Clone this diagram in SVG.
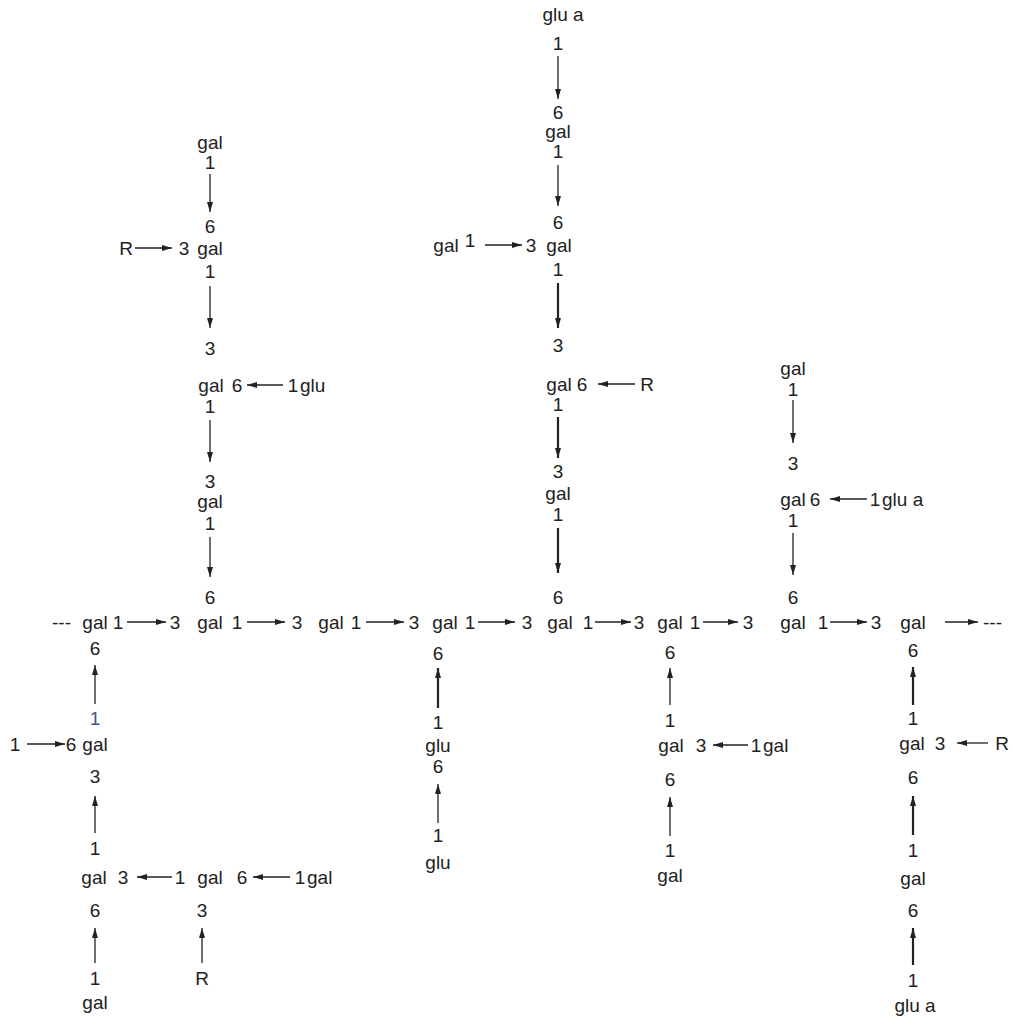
<svg xmlns="http://www.w3.org/2000/svg" width="1013" height="1018" viewBox="0 0 1013 1018">
<style>
text{font-family:"Liberation Sans",Arial,sans-serif;font-size:19px;fill:#222;text-anchor:middle}
text.s{text-anchor:start}
.blue{fill:#3c5a88}
.a{stroke:#222;stroke-width:1.3;fill:none;marker-end:url(#ah)}
.b{stroke-width:2.2}
</style>
<defs>
<marker id="ah" markerUnits="userSpaceOnUse" viewBox="0 0 10 6" refX="10" refY="3" markerWidth="10" markerHeight="6" orient="auto">
<path d="M0,0 L10,3 L0,6 z" fill="#222"/>
</marker>
</defs>
<rect width="1013" height="1018" fill="#fff"/>

<g id="connectors">
<!-- left upper column -->
<line class="a" x1="210" y1="174" x2="210" y2="212"/>
<line class="a" x1="135" y1="248" x2="172" y2="248"/>
<line class="a" x1="210" y1="286" x2="210" y2="328"/>
<line class="a" x1="283" y1="385" x2="247" y2="385"/>
<line class="a" x1="210" y1="420" x2="210" y2="462"/>
<line class="a" x1="210" y1="537" x2="210" y2="577"/>
<!-- top column -->
<line class="a" x1="558" y1="56" x2="558" y2="99"/>
<line class="a" x1="558" y1="165" x2="558" y2="206"/>
<line class="a" x1="485" y1="245" x2="522" y2="245"/>
<line class="a b" x1="558" y1="283" x2="558" y2="328"/>
<line class="a" x1="635" y1="384" x2="598" y2="384"/>
<line class="a b" x1="558" y1="417" x2="558" y2="458"/>
<line class="a b" x1="558" y1="528" x2="558" y2="573"/>
<!-- right upper column -->
<line class="a" x1="793" y1="400" x2="793" y2="443"/>
<line class="a" x1="867" y1="499" x2="830" y2="499"/>
<line class="a" x1="793" y1="533" x2="793" y2="575"/>
<!-- main chain -->
<line class="a" x1="127" y1="622" x2="166" y2="622"/>
<line class="a" x1="247" y1="622" x2="285" y2="622"/>
<line class="a" x1="366" y1="622" x2="404" y2="622"/>
<line class="a" x1="478" y1="622" x2="515" y2="622"/>
<line class="a" x1="595" y1="622" x2="631" y2="622"/>
<line class="a" x1="703" y1="622" x2="738" y2="622"/>
<line class="a" x1="830" y1="622" x2="867" y2="622"/>
<line class="a" x1="945" y1="622" x2="978" y2="622"/>
<!-- left lower -->
<line class="a" x1="95" y1="704" x2="95" y2="665"/>
<line class="a" x1="27" y1="744" x2="65" y2="744"/>
<line class="a" x1="95" y1="833" x2="95" y2="796"/>
<line class="a" x1="172" y1="877" x2="137" y2="877"/>
<line class="a" x1="290" y1="877" x2="253" y2="877"/>
<line class="a" x1="95" y1="963" x2="95" y2="928"/>
<line class="a" x1="202" y1="963" x2="202" y2="928"/>
<!-- middle lower -->
<line class="a b" x1="438" y1="708" x2="438" y2="668"/>
<line class="a" x1="438" y1="823" x2="438" y2="784"/>
<!-- right-mid lower -->
<line class="a" x1="670" y1="705" x2="670" y2="668"/>
<line class="a" x1="748" y1="745" x2="713" y2="745"/>
<line class="a" x1="670" y1="836" x2="670" y2="797"/>
<!-- right lower -->
<line class="a b" x1="913" y1="705" x2="913" y2="667"/>
<line class="a" x1="988" y1="743" x2="957" y2="743"/>
<line class="a b" x1="913" y1="835" x2="913" y2="796"/>
<line class="a b" x1="913" y1="965" x2="913" y2="928"/>
</g>

<!-- left upper column -->
<g id="lu1"><text x="210" y="149">gal</text><text x="210" y="169">1</text></g>
<g id="lu2"><text x="210" y="233">6</text><text x="184" y="255">3</text><text x="210" y="255">gal</text><text x="210" y="278">1</text></g>
<g id="luR"><text x="126" y="255">R</text></g>
<g id="lu3"><text x="210" y="355">3</text><text x="211" y="392">gal</text><text x="237" y="392">6</text><text x="210" y="413">1</text></g>
<g id="luglu"><text x="293" y="392">1</text><text class="s" x="300" y="392">glu</text></g>
<g id="lu4"><text x="210" y="488">3</text><text x="210" y="508">gal</text><text x="210" y="530">1</text></g>

<!-- top column -->
<g id="t1"><text x="563" y="21">glu a</text><text x="558" y="50">1</text></g>
<g id="t2"><text x="558" y="119">6</text><text x="558" y="138">gal</text><text x="558" y="158">1</text></g>
<g id="t3"><text x="558" y="229">6</text><text x="531" y="252">3</text><text x="559" y="252">gal</text><text x="558" y="276">1</text></g>
<g id="tside"><text x="446" y="252">gal</text><text x="470" y="247">1</text></g>
<g id="t4"><text x="558" y="352">3</text><text x="559" y="391">gal</text><text x="582" y="391">6</text><text x="558" y="411">1</text></g>
<g id="tR"><text x="647" y="391">R</text></g>
<g id="t5"><text x="558" y="478">3</text><text x="558" y="500">gal</text><text x="558" y="521">1</text></g>

<!-- right upper column -->
<g id="ru1"><text x="793" y="375">gal</text><text x="793" y="396">1</text></g>
<g id="ru2"><text x="793" y="470">3</text><text x="793" y="506">gal</text><text x="815" y="506">6</text><text x="793" y="527">1</text></g>
<g id="ruglu"><text x="875" y="506">1</text><text class="s" x="882" y="506">glu a</text></g>

<!-- main chain -->
<g id="m1"><text class="s" x="52" y="629">---</text><text x="95" y="629">gal</text><text x="118" y="629">1</text><text x="95" y="655">6</text></g>
<g id="m2"><text x="210" y="604">6</text><text x="175" y="629">3</text><text x="210" y="629">gal</text><text x="237" y="629">1</text></g>
<g id="m3"><text x="297" y="629">3</text><text x="331" y="629">gal</text><text x="356" y="629">1</text></g>
<g id="m4"><text x="414" y="629">3</text><text x="445" y="629">gal</text><text x="470" y="629">1</text><text x="438" y="660">6</text></g>
<g id="m5"><text x="558" y="604">6</text><text x="527" y="629">3</text><text x="560" y="629">gal</text><text x="588" y="629">1</text></g>
<g id="m6"><text x="639" y="629">3</text><text x="670" y="629">gal</text><text x="695" y="629">1</text><text x="670" y="659">6</text></g>
<g id="m7"><text x="793" y="604">6</text><text x="748" y="629">3</text><text x="793" y="629">gal</text><text x="823" y="629">1</text></g>
<g id="m8"><text x="876" y="629">3</text><text x="913" y="629">gal</text><text class="s" x="983" y="629">---</text><text x="913" y="657">6</text></g>

<!-- left lower -->
<g id="ll1"><text class="blue" x="95" y="725">1</text><text x="71" y="751">6</text><text x="95" y="751">gal</text><text x="95" y="783">3</text></g>
<g id="ll1side"><text x="15" y="751">1</text></g>
<g id="ll2"><text x="95" y="855">1</text><text x="94" y="884">gal</text><text x="123" y="884">3</text><text x="95" y="917">6</text></g>
<g id="ll3"><text x="180" y="884">1</text><text x="210" y="884">gal</text><text x="242" y="884">6</text><text x="202" y="917">3</text></g>
<g id="ll3side"><text x="300" y="884">1</text><text class="s" x="307" y="884">gal</text></g>
<g id="ll4"><text x="95" y="985">1</text><text x="95" y="1009">gal</text></g>
<g id="llR"><text x="202" y="985">R</text></g>

<!-- middle lower -->
<g id="ml1"><text x="438" y="729">1</text><text x="438" y="752">glu</text><text x="438" y="773">6</text></g>
<g id="ml2"><text x="438" y="842">1</text><text x="438" y="869">glu</text></g>

<!-- right-mid lower -->
<g id="rm1"><text x="670" y="727">1</text><text x="671" y="752">gal</text><text x="701" y="752">3</text><text x="670" y="786">6</text></g>
<g id="rm1side"><text x="756" y="752">1</text><text class="s" x="763" y="752">gal</text></g>
<g id="rm2"><text x="670" y="857">1</text><text x="670" y="882">gal</text></g>

<!-- right lower -->
<g id="rl1"><text x="913" y="725">1</text><text x="912" y="750">gal</text><text x="940" y="750">3</text><text x="913" y="784">6</text></g>
<g id="rlR"><text x="1002" y="750">R</text></g>
<g id="rl2"><text x="913" y="857">1</text><text x="913" y="885">gal</text><text x="913" y="917">6</text></g>
<g id="rl3"><text x="913" y="987">1</text><text x="915" y="1012">glu a</text></g>
</svg>
